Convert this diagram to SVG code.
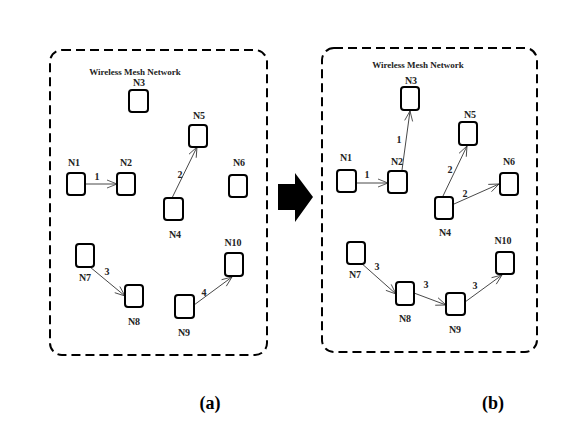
<svg xmlns="http://www.w3.org/2000/svg" width="580" height="439" viewBox="0 0 580 439">
<defs>
<marker id="ah" markerWidth="12" markerHeight="10" refX="11" refY="5" orient="auto" markerUnits="userSpaceOnUse">
<path d="M1,1 L11,5 L1,9" fill="none" stroke="#333" stroke-width="0.8"/>
</marker>
<style>
.frame{fill:none;stroke:#000;stroke-width:2;stroke-dasharray:9 5}
.nd rect{fill:#fff;stroke:#000;stroke-width:2}
.t{font-family:"Liberation Serif",serif;font-size:10px;font-weight:bold;fill:#222;text-anchor:middle}
.ttl{font-family:"Liberation Serif",serif;font-size:9px;font-weight:bold;fill:#222;text-anchor:middle}
.e{stroke:#333;stroke-width:0.9;fill:none;marker-end:url(#ah)}
.cap{font-family:"Liberation Serif",serif;font-size:18px;font-weight:bold;fill:#000;text-anchor:middle}
</style>
</defs>
<rect width="580" height="439" fill="#fff"/>
<rect class="frame" x="50" y="50" width="217" height="305" rx="12"/>
<rect class="frame" x="322" y="48" width="215" height="304" rx="12"/>
<text class="ttl" x="135" y="75">Wireless Mesh Network</text>
<text class="ttl" x="418" y="68">Wireless Mesh Network</text>
<path d="M278,184 H295 V173 L313,197 L295,222 V210 H278 Z" fill="#000"/>
<g id="connectors">
<line class="e" x1="85" y1="184" x2="117" y2="184"/>
<line class="e" x1="172" y1="198" x2="197" y2="147"/>
<line class="e" x1="90" y1="267" x2="125" y2="296"/>
<line class="e" x1="194" y1="305" x2="232" y2="277"/>
<line class="e" x1="356" y1="183" x2="388" y2="183"/>
<line class="e" x1="402" y1="170" x2="410" y2="111"/>
<line class="e" x1="443" y1="196" x2="467" y2="146"/>
<line class="e" x1="454" y1="204" x2="499" y2="184"/>
<line class="e" x1="360" y1="262" x2="396" y2="294"/>
<line class="e" x1="414" y1="293" x2="446" y2="305"/>
<line class="e" x1="465" y1="302" x2="502" y2="275"/>
<text class="t" x="97" y="180">1</text>
<text class="t" x="180" y="178">2</text>
<text class="t" x="107" y="275">3</text>
<text class="t" x="204" y="296">4</text>
<text class="t" x="367" y="178">1</text>
<text class="t" x="399" y="143">1</text>
<text class="t" x="450" y="173">2</text>
<text class="t" x="465" y="197">2</text>
<text class="t" x="377" y="270">3</text>
<text class="t" x="426" y="288">3</text>
<text class="t" x="475" y="289">3</text>
</g>
<g id="a-N1" class="nd"><rect x="67" y="173" width="18" height="22" rx="3"/><text class="t" x="74" y="166">N1</text></g>
<g id="a-N2" class="nd"><rect x="117" y="173" width="18" height="22" rx="3"/><text class="t" x="126" y="166">N2</text></g>
<g id="a-N3" class="nd"><rect x="129" y="90" width="19" height="22" rx="3"/><text class="t" x="139" y="86">N3</text></g>
<g id="a-N4" class="nd"><rect x="164" y="198" width="19" height="22" rx="3"/><text class="t" x="175" y="238">N4</text></g>
<g id="a-N5" class="nd"><rect x="189" y="125" width="18" height="22" rx="3"/><text class="t" x="199" y="119">N5</text></g>
<g id="a-N6" class="nd"><rect x="229" y="175" width="18" height="22" rx="3"/><text class="t" x="239" y="166">N6</text></g>
<g id="a-N7" class="nd"><rect x="76" y="244" width="18" height="23" rx="3"/><text class="t" x="85" y="281">N7</text></g>
<g id="a-N8" class="nd"><rect x="125" y="285" width="18" height="22" rx="3"/><text class="t" x="134" y="325">N8</text></g>
<g id="a-N9" class="nd"><rect x="175" y="295" width="19" height="23" rx="3"/><text class="t" x="184" y="336">N9</text></g>
<g id="a-N10" class="nd"><rect x="225" y="253" width="18" height="23" rx="3"/><text class="t" x="233" y="246">N10</text></g>
<g id="b-N1" class="nd"><rect x="337" y="170" width="19" height="22" rx="3"/><text class="t" x="346" y="161">N1</text></g>
<g id="b-N2" class="nd"><rect x="388" y="171" width="19" height="22" rx="3"/><text class="t" x="397" y="165">N2</text></g>
<g id="b-N3" class="nd"><rect x="401" y="87" width="18" height="23" rx="3"/><text class="t" x="411" y="84">N3</text></g>
<g id="b-N4" class="nd"><rect x="435" y="197" width="18" height="22" rx="3"/><text class="t" x="445" y="236">N4</text></g>
<g id="b-N5" class="nd"><rect x="459" y="122" width="18" height="23" rx="3"/><text class="t" x="470" y="118">N5</text></g>
<g id="b-N6" class="nd"><rect x="500" y="173" width="18" height="22" rx="3"/><text class="t" x="509" y="165">N6</text></g>
<g id="b-N7" class="nd"><rect x="347" y="242" width="18" height="22" rx="3"/><text class="t" x="355" y="278">N7</text></g>
<g id="b-N8" class="nd"><rect x="396" y="282" width="18" height="23" rx="3"/><text class="t" x="405" y="322">N8</text></g>
<g id="b-N9" class="nd"><rect x="446" y="293" width="19" height="22" rx="3"/><text class="t" x="455" y="333">N9</text></g>
<g id="b-N10" class="nd"><rect x="496" y="252" width="18" height="22" rx="3"/><text class="t" x="503" y="244">N10</text></g>
<text class="cap" x="210" y="409">(a)</text>
<text class="cap" x="493" y="409">(b)</text>
</svg>
